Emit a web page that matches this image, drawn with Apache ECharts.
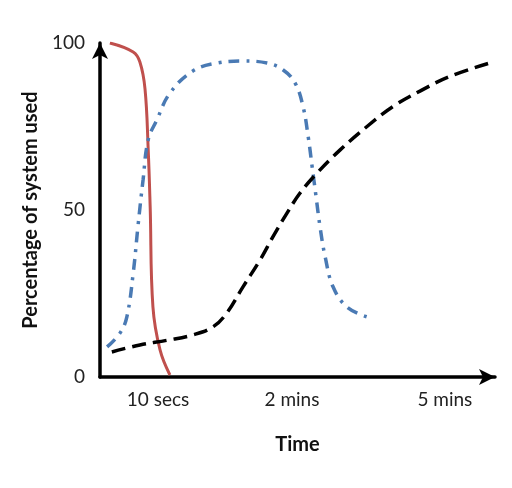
<!DOCTYPE html>
<html>
<head>
<meta charset="utf-8">
<script src="https://cdn.jsdelivr.net/npm/echarts@6/dist/echarts.min.js"></script>
<style>html,body{margin:0;padding:0;background:#fff}#c{width:512px;height:488px}</style>
</head>
<body>
<div id="c"></div>
<script>
// Data (x in relative time units 0..100, y in % of system used)
var xTickValues = [14.7, 48.6, 87.3];
var xTickLabels = ['10 secs', '2 mins', '5 mins'];
var yTickValues = [0, 50, 100];

var atpPc = [[2.5,100],[8.4,97.3],[10.1,94.3],[11.4,86.2],[12.2,68.2],[12.7,51],[13.4,21],[15.2,8.1],[17.7,0.6]];
var glycolysis = [[1.8,9],[5.1,13.2],[6.8,18],[8.4,31],[9.6,45],[10.9,59],[12.2,71],[14.4,77],[17.7,85],[23.5,91.6],[29.6,94],[36.2,94.6],[42.3,94],[46.3,92],[49.4,88],[51.4,81],[52.7,72],[53.7,63],[54.7,54],[55.7,45],[57,36],[59,27],[62.5,21],[67.6,18]];
var aerobic = [[3,7.5],[10.1,9.6],[17,11],[23.5,12.6],[28.6,15],[32,19],[36.2,27],[40.5,35],[43.8,42],[47.3,49],[50.6,55],[54.9,61],[60.8,68],[67.6,75],[74.2,81],[81,85.6],[88.6,90],[99.5,94.3]];

var FONT = 'Lato';
var chart = echarts.init(document.getElementById('c'));
chart.setOption({
  animation: false,
  grid: {left: 100, right: 17, top: 43, bottom: 111},
  xAxis: {
    type: 'value', min: 0, max: 100,
    name: 'Time', nameLocation: 'middle', nameGap: 58,
    nameTextStyle: {fontFamily: FONT, fontWeight: 'bold', fontSize: 20, color: '#111'},
    axisLine: {show: true, symbol: ['none','arrow'], symbolSize: [12,16], lineStyle: {color: '#000', width: 3.5}},
    axisTick: {show: false},
    splitLine: {show: false},
    axisLabel: {
      customValues: xTickValues,
      margin: 13,
      fontFamily: FONT, fontSize: 19, color: '#222',
      formatter: function (v) {
        for (var i = 0; i < xTickValues.length; i++) if (Math.abs(xTickValues[i]-v) < 1e-6) return xTickLabels[i];
        return '';
      }
    }
  },
  yAxis: {
    type: 'value', min: 0, max: 100,
    name: 'Percentage of system used', nameLocation: 'middle', nameGap: 57,
    nameTextStyle: {fontFamily: FONT, fontWeight: 'bold', fontSize: 20, color: '#111'},
    axisLine: {show: true, symbol: ['none','arrow'], symbolSize: [12,16], lineStyle: {color: '#000', width: 3.5}},
    axisTick: {show: false},
    splitLine: {show: false},
    axisLabel: {customValues: yTickValues, margin: 15, fontFamily: FONT, fontSize: 19, color: '#222'}
  },
  series: [
    {type: 'line', data: atpPc, smooth: 0.4, showSymbol: false, lineStyle: {color: '#c0504d', width: 3}},
    {type: 'line', data: glycolysis, smooth: 0.4, showSymbol: false, lineStyle: {color: '#4a7ab4', width: 3.5, type: [11,7,3,7]}},
    {type: 'line', data: aerobic, smooth: 0.4, showSymbol: false, lineStyle: {color: '#000', width: 3.5, type: [14,7]}}
  ]
});
</script>
</body>
</html>
